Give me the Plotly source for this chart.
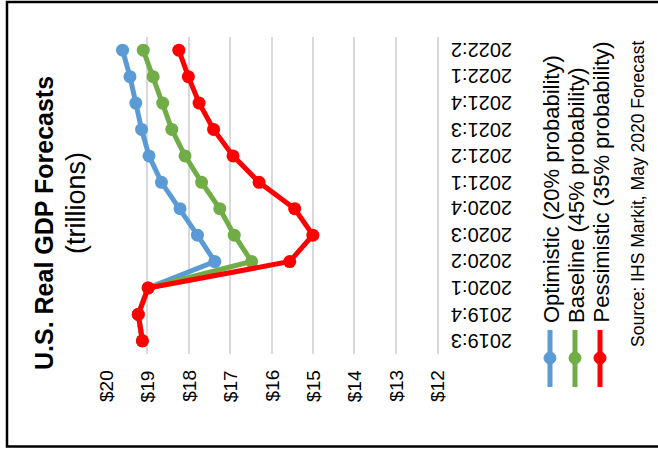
import plotly.graph_objects as go

# Quarterly real GDP forecasts, trillions of dollars
quarters = ["2019:3", "2019:4", "2020:1", "2020:2", "2020:3", "2020:4",
            "2021:1", "2021:2", "2021:3", "2021:4", "2022:1", "2022:2"]
optimistic = [19.12, 19.22, 18.98, 17.37, 17.79, 18.21, 18.66, 18.96, 19.14, 19.28, 19.42, 19.60]
baseline = [19.12, 19.22, 18.98, 16.48, 16.90, 17.25, 17.69, 18.09, 18.41, 18.63, 18.86, 19.10]
pessimistic = [19.12, 19.22, 18.98, 15.56, 15.00, 15.44, 16.30, 16.93, 17.40, 17.75, 18.01, 18.24]

series_names = ["Optimistic (20% probability)",
                "Baseline (45% probability)",
                "Pessimistic (35% probability)"]
series_colors = ["#5B9BD5", "#70AD47", "#FF0000"]
value_ticks = [20, 19, 18, 17, 16, 15, 14, 13, 12]

W, H = 658, 451
L, R, T, B = 106, 221, 37, 97
FONT = "Liberation Sans, Arial, sans-serif"


def px(x):
    return (x - L) / (W - L - R)


def py(y):
    return (H - B - y) / (H - T - B)


fig = go.Figure()
for name, vals, col in zip(series_names, [optimistic, baseline, pessimistic], series_colors):
    fig.add_trace(go.Scatter(
        x=vals, y=quarters, mode="lines+markers", name=name,
        line=dict(color=col, width=5),
        marker=dict(color=col, size=13),
        showlegend=False,
    ))

shapes = []
annotations = []

# outer frame
shapes.append(dict(type="rect", xref="paper", yref="paper",
                   x0=px(7), x1=px(662), y0=py(2), y1=py(446.5),
                   line=dict(color="black", width=2.5), layer="above"))

# value labels under the plot, turned to read upward
for v in value_ticks:
    annotations.append(dict(text=f"${v}", xref="x", yref="paper",
                            x=v, y=py(368), xanchor="center", yanchor="top",
                            textangle=-90, showarrow=False,
                            font=dict(family=FONT, size=19, color="black")))

# quarter labels beside the category axis, upside down
for q in quarters:
    annotations.append(dict(text=q, xref="paper", yref="y",
                            x=px(449), y=q, xanchor="left", yanchor="middle",
                            textangle=180, showarrow=False,
                            font=dict(family=FONT, size=20, color="black")))

# legend drawn as rotated entries
for i, (name, col) in enumerate(zip(series_names, series_colors)):
    lx = 550 + 25 * i
    shapes.append(dict(type="line", xref="paper", yref="paper",
                       x0=px(lx), x1=px(lx), y0=py(330), y1=py(387),
                       line=dict(color=col, width=5)))
    shapes.append(dict(type="circle", xref="paper", yref="paper",
                       x0=px(lx - 6), x1=px(lx + 6), y0=py(352), y1=py(364),
                       fillcolor=col, line=dict(color=col, width=1)))
    annotations.append(dict(text=name, xref="paper", yref="paper",
                            x=px(lx + 1), y=py(325), xanchor="center", yanchor="bottom",
                            textangle=-90, showarrow=False,
                            font=dict(family=FONT, size=22, color="black")))

annotations.append(dict(text="<b>U.S. Real GDP Forecasts</b>", xref="paper", yref="paper",
                        x=px(44), y=py(223), xanchor="center", yanchor="middle",
                        textangle=-90, showarrow=False,
                        font=dict(family=FONT, size=25, color="black")))
annotations.append(dict(text="(trillions)", xref="paper", yref="paper",
                        x=px(76), y=py(203), xanchor="center", yanchor="middle",
                        textangle=-90, showarrow=False,
                        font=dict(family=FONT, size=27, color="black")))
annotations.append(dict(text="Source: IHS Markit, May 2020 Forecast", xref="paper", yref="paper",
                        x=px(638), y=py(194), xanchor="center", yanchor="middle",
                        textangle=-90, showarrow=False,
                        font=dict(family=FONT, size=17.5, color="black")))

fig.update_layout(
    width=W, height=H,
    margin=dict(l=L, r=R, t=T, b=B, pad=0),
    paper_bgcolor="white", plot_bgcolor="white",
    font=dict(family=FONT, size=18, color="black"),
    shapes=shapes, annotations=annotations,
    showlegend=False,
)
fig.update_xaxes(
    range=[20, 12], tickvals=value_ticks, showticklabels=False,
    showgrid=True, gridcolor="#D9D9D9", gridwidth=1.5,
    zeroline=False, showline=False, ticks="",
)
fig.update_yaxes(
    type="category", categoryorder="array", categoryarray=quarters,
    range=[-0.5, 11.5], side="right", showticklabels=False,
    showgrid=False, zeroline=False, showline=True,
    linecolor="#D9D9D9", linewidth=2, ticks="",
)

fig.write_html("out.html")
